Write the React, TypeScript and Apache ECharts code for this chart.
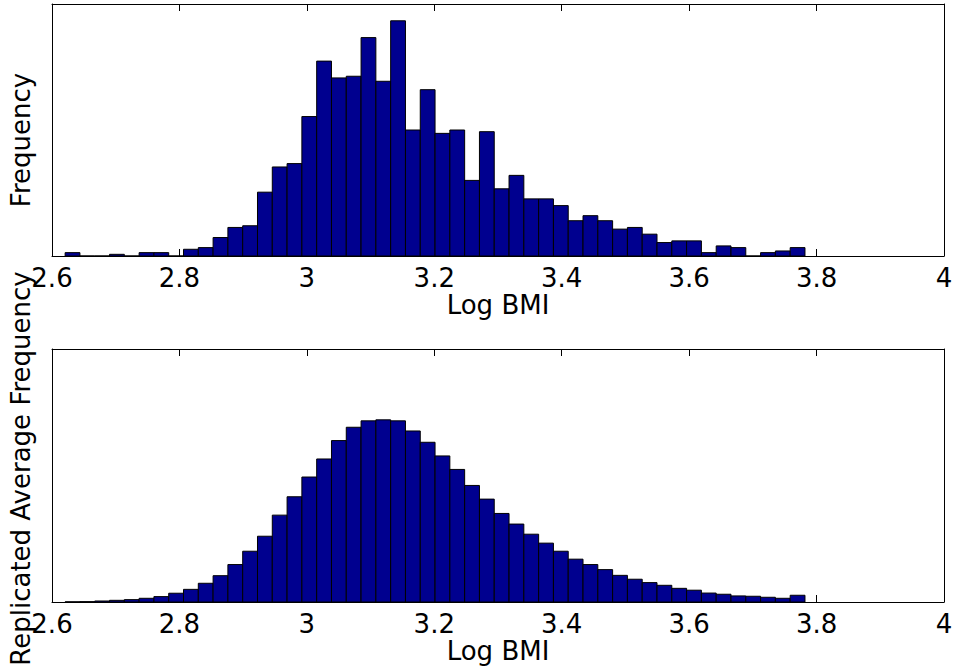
import React, { useEffect, useRef } from "react";
import * as echarts from "echarts";

// Histogram bins: 50 equal bins from data min to data max
const binStart = 2.6206;
const binWidth = 0.023224;

// Observed counts per bin (top panel)
const observedCounts = [
  2, 0, 0, 1, 0, 2, 2, 0, 4, 5,
  11, 17, 18, 38, 53, 55, 83, 116, 106, 107,
  130, 104, 140, 75, 99, 73, 75, 45, 74, 40,
  48, 34, 34, 30, 21, 24, 21, 16, 17, 13,
  8, 9, 9, 2, 6, 5, 0, 2, 3, 5,
];

// Replicated average counts per bin (bottom panel)
const replicatedCounts = [
  0.1, 0.2, 0.6, 1.0, 1.4, 2.2, 3.2, 5.2, 7.5, 11.1,
  15.6, 22.2, 30.1, 39.0, 51.5, 62.4, 74.1, 84.8, 95.7, 103.6,
  107.4, 108.0, 107.4, 101.4, 94.7, 86.6, 78.6, 69.1, 61.0, 52.5,
  46.2, 40.2, 34.9, 30.1, 25.4, 22.2, 19.2, 15.8, 13.5, 11.5,
  9.9, 8.1, 7.0, 5.3, 4.6, 3.6, 3.4, 2.8, 2.2, 4.0,
];

const xMin = 2.6;
const xMax = 4;
const xInterval = 0.2;
const yMax = 150;
const xTitle = "Log BMI";
const yTitles = ["Frequency", "Replicated Average Frequency"];

const FONT = "DejaVu Sans";

function toBins(counts: number[]) {
  return counts.map((c, i) => [binStart + i * binWidth, binStart + (i + 1) * binWidth, c]);
}

export default function App() {
  const ref = useRef<HTMLDivElement>(null);
  useEffect(() => {
    if (!ref.current) return;
    const chart = echarts.init(ref.current, undefined, { renderer: "svg" });
    const grids = [
      { left: 52, right: 12, top: 4, height: 252 },
      { left: 52, right: 12, top: 349, height: 253 },
    ];
    const xAxes: any[] = [];
    const yAxes: any[] = [];
    const series: any[] = [];
    [observedCounts, replicatedCounts].forEach((counts, g) => {
      xAxes.push({
        type: "value",
        gridIndex: g,
        position: "bottom",
        min: xMin,
        max: xMax,
        interval: xInterval,
        name: xTitle,
        nameLocation: "middle",
        nameGap: 34,
        nameTextStyle: { fontFamily: FONT, fontSize: 26, color: "#000" },
        axisLine: { show: true, onZero: false, lineStyle: { color: "#000", width: 1 } },
        axisTick: { show: true, inside: true, length: 7, lineStyle: { color: "#000" } },
        axisLabel: { show: true, margin: 9, fontFamily: FONT, fontSize: 26, color: "#000" },
        splitLine: { show: false },
      });
      xAxes.push({
        type: "value",
        gridIndex: g,
        position: "top",
        min: xMin,
        max: xMax,
        interval: xInterval,
        axisLine: { show: true, onZero: false, lineStyle: { color: "#000", width: 1 } },
        axisTick: { show: true, inside: true, length: 7, lineStyle: { color: "#000" } },
        axisLabel: { show: false },
        splitLine: { show: false },
      });
      yAxes.push({
        type: "value",
        gridIndex: g,
        position: "left",
        min: 0,
        max: yMax,
        name: yTitles[g],
        nameLocation: "middle",
        nameGap: 18,
        nameTextStyle: {
          fontFamily: FONT,
          fontSize: 26,
          color: "#000",
          padding: g === 0 ? [0, 20, 0, 0] : [0, 0, 0, 14],
        },
        axisLine: { show: true, onZero: false, lineStyle: { color: "#000", width: 1 } },
        axisTick: { show: false },
        axisLabel: { show: false },
        splitLine: { show: false },
      });
      yAxes.push({
        type: "value",
        gridIndex: g,
        position: "right",
        min: 0,
        max: yMax,
        axisLine: { show: true, onZero: false, lineStyle: { color: "#000", width: 1 } },
        axisTick: { show: false },
        axisLabel: { show: false },
        splitLine: { show: false },
      });
      series.push({
        type: "custom",
        xAxisIndex: g * 2,
        yAxisIndex: g * 2,
        data: toBins(counts),
        encode: { x: [0, 1], y: 2 },
        clip: true,
        renderItem: (params: any, api: any) => {
          const x0 = api.value(0);
          const x1 = api.value(1);
          const h = api.value(2);
          const p0 = api.coord([x0, h]);
          const p1 = api.coord([x1, 0]);
          return {
            type: "rect",
            shape: { x: p0[0], y: p0[1], width: p1[0] - p0[0], height: p1[1] - p0[1] },
            style: { fill: "#00008F", stroke: "#000", lineWidth: 1 },
          };
        },
      });
    });
    chart.setOption({
      animation: false,
      backgroundColor: "#fff",
      grid: grids,
      xAxis: xAxes,
      yAxis: yAxes,
      series,
    });
    return () => chart.dispose();
  }, []);
  return (
    <div
      ref={ref}
      style={{ position: "fixed", left: 0, top: 0, width: 956, height: 671 }}
    />
  );
}
